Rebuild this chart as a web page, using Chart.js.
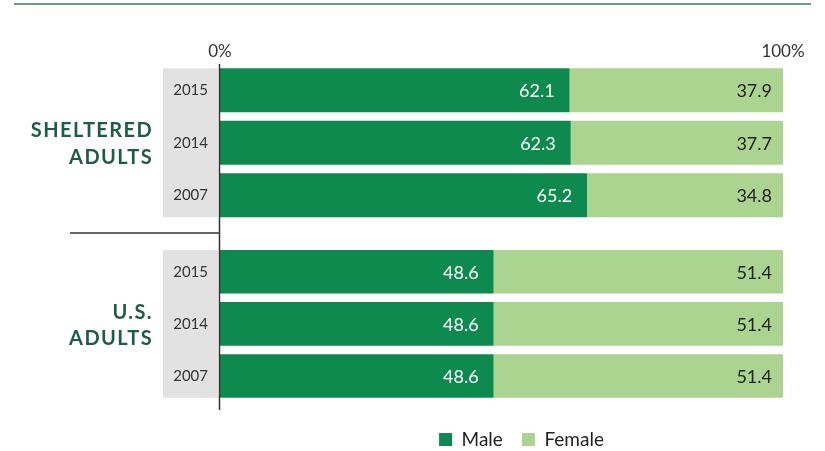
<!DOCTYPE html>
<html>
<head>
<meta charset="utf-8">
<script src="https://cdn.jsdelivr.net/npm/chart.js@4.4.1/dist/chart.umd.min.js"></script>
<style>
  html, body { margin: 0; padding: 0; background: #fff; }
  #wrap { position: relative; width: 825px; height: 451px; overflow: hidden; }
  #rule { position: absolute; left: 14px; top: 3px; width: 797px; height: 2px; background: #6b9c83; }
  #boxA { position: absolute; left: 0; top: 0; width: 825px; height: 234px; }
  #boxB { position: absolute; left: 0; top: 234px; width: 825px; height: 225px; }
</style>
</head>
<body>
<div id="wrap">
  <div id="rule"></div>
  <div id="boxA"><canvas id="chartA"></canvas></div>
  <div id="boxB"><canvas id="chartB"></canvas></div>
</div>
<script>
// data
const years = ['2015', '2014', '2007'];
const shelteredMale = [62.1, 62.3, 65.2];
const shelteredFemale = [37.9, 37.7, 34.8];
const usMale = [48.6, 48.6, 48.6];
const usFemale = [51.4, 51.4, 51.4];
const seriesNames = ['Male', 'Female'];
const groupNames = [['SHELTERED', 'ADULTS'], ['U.S.', 'ADULTS']];
const axisTicks = [0, 100];

const MALE = '#0f8a4f';
const FEMALE = '#abd490';
const FONT = 'Lato, "Open Sans", sans-serif';

// gray strip behind years, group title, axis line, separator
const decor = {
  id: 'decor',
  beforeDraw(chart, args, o) {
    const { ctx, chartArea } = chart;
    const bars = chart.getDatasetMeta(0).data;
    const top = bars[0].y - bars[0].height / 2;
    const bottom = bars[bars.length - 1].y + bars[bars.length - 1].height / 2;
    ctx.save();
    ctx.fillStyle = '#e2e2e2';
    ctx.fillRect(chartArea.left - 57, top, 55, bottom - top);
    ctx.restore();
  },
  afterDraw(chart, args, o) {
    const { ctx, chartArea } = chart;
    const bars = chart.getDatasetMeta(0).data;
    const mid = bars[1].y;
    ctx.save();
    // group title
    ctx.fillStyle = '#1e5c47';
    ctx.font = 'bold 20px ' + FONT;
    ctx.letterSpacing = '1.4px';
    ctx.textAlign = 'right';
    ctx.textBaseline = 'middle';
    o.title.forEach((t, i) => {
      ctx.fillText(t, chartArea.left - 67, mid + 1.5 + (i - (o.title.length - 1) / 2) * 26.5);
    });
    ctx.letterSpacing = '0px';
    // vertical axis
    ctx.strokeStyle = '#333';
    ctx.lineWidth = 1.5;
    ctx.beginPath();
    ctx.moveTo(chartArea.left - 0.5, o.lineTop != null ? o.lineTop : chartArea.top);
    ctx.lineTo(chartArea.left - 0.5, o.lineBottom != null ? o.lineBottom : chartArea.bottom);
    ctx.stroke();
    if (o.separator) {
      ctx.beginPath();
      ctx.moveTo(70, o.separator);
      ctx.lineTo(chartArea.left, o.separator);
      ctx.stroke();
    }
    ctx.restore();
  },
  afterLayout(chart, args, o) {
    if (o.legendShift && chart.legend) {
      chart.legend.left += o.legendShift;
      chart.legend.right += o.legendShift;
    }
  }
};

// values inside the bars
const valueLabels = {
  id: 'valueLabels',
  afterDatasetsDraw(chart) {
    const { ctx } = chart;
    ctx.save();
    ctx.font = '18px ' + FONT;
    ctx.textAlign = 'right';
    ctx.textBaseline = 'middle';
    chart.data.datasets.forEach((ds, di) => {
      ctx.fillStyle = di === 0 ? '#ffffff' : '#222222';
      const inset = di === 0 ? 15 : 11;
      chart.getDatasetMeta(di).data.forEach((bar, i) => {
        ctx.fillText(ds.data[i].toFixed(1), bar.x - inset, bar.y + 1);
      });
    });
    ctx.restore();
  }
};

function makeChart(id, male, female, title, extra) {
  return new Chart(document.getElementById(id), {
    type: 'bar',
    data: {
      labels: years,
      datasets: [
        { label: seriesNames[0], data: male, backgroundColor: MALE, borderWidth: 0,
          barPercentage: 0.838, categoryPercentage: 1 },
        { label: seriesNames[1], data: female, backgroundColor: FEMALE, borderWidth: 0,
          barPercentage: 0.838, categoryPercentage: 1 }
      ]
    },
    options: {
      indexAxis: 'y',
      responsive: true,
      maintainAspectRatio: false,
      animation: false,
      layout: { padding: extra.padding },
      scales: {
        x: extra.x,
        y: {
          stacked: true,
          grid: { display: false, drawTicks: false },
          border: { display: false },
          ticks: { color: '#333', font: { size: 15, family: FONT }, padding: 12 },
          afterFit(s) { s.width = 220; s.paddingTop = 0; s.paddingBottom = 0; }
        }
      },
      plugins: {
        legend: extra.legend,
        tooltip: { enabled: false },
        decor: Object.assign({ title: title }, extra.decor)
      }
    },
    plugins: [decor, valueLabels]
  });
}

makeChart('chartA', shelteredMale, shelteredFemale, groupNames[0], {
  padding: { left: 0, right: 42, top: 0, bottom: 12.5 },
  x: {
    stacked: true, position: 'top', min: axisTicks[0], max: axisTicks[1],
    grid: { display: false, drawTicks: false },
    border: { display: false },
    afterBuildTicks(s) { s.ticks = axisTicks.map(v => ({ value: v })); },
    ticks: { color: '#333', font: { size: 17, family: FONT }, padding: 2,
      callback: v => v + '%' },
    afterFit(s) { s.height = 64; s.paddingLeft = 0; s.paddingRight = 0; }
  },
  legend: { display: false },
  decor: { lineBottom: 234, separator: 233 }
});

makeChart('chartB', usMale, usFemale, groupNames[1], {
  padding: { left: 0, right: 42, top: 11.75, bottom: 0 },
  x: {
    stacked: true, position: 'bottom', min: axisTicks[0], max: axisTicks[1],
    grid: { display: false, drawTicks: false },
    border: { display: false },
    ticks: { display: false },
    afterFit(s) { s.height = 9; s.paddingLeft = 0; s.paddingRight = 0; }
  },
  legend: {
    position: 'bottom', fullSize: false,
    labels: { boxWidth: 13, boxHeight: 13, padding: 19, color: '#222',
      font: { size: 19, family: FONT } }
  },
  decor: { lineTop: 0, lineBottom: 176, legendShift: 20 }
});
</script>
</body>
</html>
